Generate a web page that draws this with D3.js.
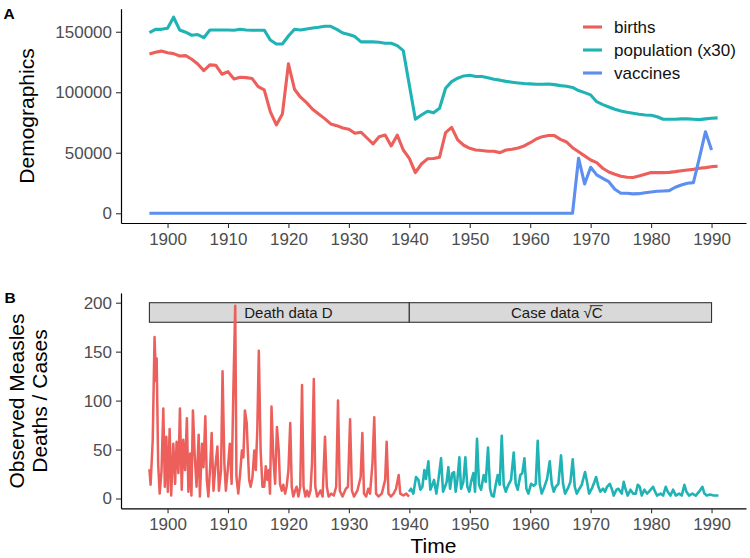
<!DOCTYPE html>
<html><head><meta charset="utf-8">
<script src="https://cdn.jsdelivr.net/npm/d3@7"></script>
<style>
body{margin:0;background:#fff}
text{font-family:"Liberation Sans",Arial,Helvetica,sans-serif}
</style>
</head><body>
<svg id="c" width="750" height="558"></svg>
<script>
// ---------- DATA ----------
const years = d3.range(1897, 1992); // 1897..1991
const births = [131600,133000,134000,132700,131900,130000,130300,127300,123400,117900,
122600,122300,114900,117000,111000,112400,112100,111300,104600,101900,
84000,73000,82000,123500,102500,95900,91400,85900,82000,78200,
73800,72400,70500,69500,66100,67000,62200,57300,63300,64700,
55600,64500,52300,45400,33600,40700,45000,45200,46300,66600,
71000,60600,56200,53700,52300,51800,51200,51200,50100,52300,
52900,54000,55600,58300,61400,63300,64200,64200,61100,58900,
54200,50800,47400,44000,41800,37200,34100,32200,30600,29700,
29500,30800,32200,33600,33600,33600,33800,34400,35200,35800,
36300,37200,37700,38500,38800];
const population30 = [149300,152000,152000,152900,162000,151500,149600,147100,147700,145100,
151500,151500,151500,151500,151200,152000,151500,151300,151300,151300,
143200,139900,139900,146500,152000,151500,152300,153100,153700,154500,
154500,152000,149000,147700,146000,141600,141600,141600,141300,140500,
140500,138500,134400,106000,77700,81200,84300,83000,86800,103300,
108800,111600,113500,114000,113000,113000,112000,110700,110000,109000,
108300,107700,107200,106900,106600,106600,106800,106300,105500,105000,
104000,101400,99700,97800,92200,89800,87800,85900,84500,83400,
82600,81800,81200,81000,79800,77700,77700,77700,78000,78000,
77700,77400,78000,78500,78800];
const vaccineYears = d3.range(1897, 1991); // 1897..1990
const vaccines = [0,0,0,0,0,0,0,0,0,0, 0,0,0,0,0,0,0,0,0,0,
0,0,0,0,0,0,0,0,0,0, 0,0,0,0,0,0,0,0,0,0,
0,0,0,0,0,0,0,0,0,0, 0,0,0,0,0,0,0,0,0,0,
0,0,0,0,0,0,0,0,0,0, 0,
45500,24200,38000,31700,28900,26100,19800,16500,16500,16000,
16200,17000,17600,18200,18400,18700,21500,23400,24800,25300,
46000,67400,52300];

const seriesNames = ["births","population (x30)","vaccines"];
const seriesColors = ["#EC5F5B","#20B3B5","#5C8FF0"];

// Panel B: deaths (1897-1940) and sqrt(cases) (1940-1991), read at turning points
const deathTime = [1897.0,1897.2,1897.55,1897.85,1898.1,1898.2,1898.45,1898.7,1899.0,1899.3,1899.55,1899.8,1900.05,1900.35,1900.6,1900.95,1901.25,1901.5,1901.8,1902.05,1902.35,1902.6,1902.9,1903.2,1903.45,1903.75,1903.95,1904.2,1904.5,1904.8,1905.15,1905.35,1905.7,1905.95,1906.25,1906.5,1906.75,1907.05,1907.3,1907.6,1907.9,1908.25,1908.5,1908.85,1909.1,1909.4,1909.65,1910.0,1910.3,1910.6,1910.9,1911.2,1911.4,1911.7,1912.0,1912.3,1912.55,1912.8,1913.1,1913.25,1913.5,1913.75,1914.05,1914.35,1914.6,1914.85,1915.1,1915.4,1915.7,1916.0,1916.25,1916.5,1916.75,1916.95,1917.2,1917.5,1917.8,1918.1,1918.4,1918.6,1918.9,1919.15,1919.45,1919.7,1920.0,1920.3,1920.55,1920.8,1921.1,1921.35,1921.65,1921.95,1922.25,1922.5,1922.8,1923.1,1923.35,1923.65,1923.9,1924.2,1924.45,1924.75,1925.3,1925.65,1926.05,1926.35,1926.65,1927.1,1927.5,1927.9,1928.2,1928.5,1928.95,1929.5,1929.85,1930.2,1930.5,1930.85,1931.4,1931.95,1932.23,1932.5,1932.85,1933.2,1933.5,1933.9,1934.2,1934.5,1934.9,1935.45,1936.0,1936.25,1936.55,1936.95,1937.4,1937.8,1938.24,1938.5,1939.0,1939.5,1939.95];
const deathValue = [30,14,60,165,120,143,35,5,28,92,12,63,7,71,3,56,15,58,26,92,9,60,29,82,7,46,3,90,43,12,65,2,56,32,84,19,2,32,67,8,32,53,8,29,130,36,8,32,56,15,114,197,22,5,25,49,42,90,77,53,19,12,22,49,29,70,151,49,12,12,33,19,29,5,94,42,15,73,49,15,8,14,5,12,29,77,12,2,8,12,2,12,116,12,2,8,2,8,36,122,12,2,8,2,63,12,2,5,3,12,100,8,2,10,12,81,8,2,8,22,67,5,2,10,5,36,83,5,2,5,19,58,5,2,5,10,24,5,3,5,2];
const caseTime = [1939.95,1940.28,1940.67,1941.11,1941.5,1941.83,1942.16,1942.49,1942.76,1943.15,1943.48,1943.81,1944.09,1944.47,1944.81,1945.25,1945.58,1945.91,1946.18,1946.46,1946.74,1947.12,1947.4,1947.67,1947.95,1948.28,1948.56,1948.94,1949.27,1949.6,1949.93,1950.21,1950.6,1950.87,1951.2,1951.53,1951.87,1952.31,1952.64,1953.02,1953.36,1953.63,1953.96,1954.29,1954.62,1954.95,1955.29,1955.62,1955.95,1956.39,1956.83,1957.27,1957.6,1957.93,1958.37,1958.7,1959.04,1959.37,1959.7,1960.14,1960.58,1960.91,1961.24,1961.57,1961.9,1962.35,1962.79,1963.23,1963.56,1963.89,1964.22,1964.66,1965.1,1965.43,1965.76,1966.21,1966.65,1967.03,1967.37,1967.7,1968.14,1968.52,1969.07,1969.4,1969.74,1970.18,1970.51,1970.9,1971.28,1971.61,1972.05,1972.38,1972.71,1973.16,1973.49,1973.82,1974.26,1974.59,1975.14,1975.47,1975.8,1976.13,1976.58,1977.02,1977.46,1977.79,1978.12,1978.45,1978.89,1979.33,1979.66,1980.33,1980.66,1980.99,1981.54,1981.98,1982.42,1982.75,1983.2,1983.64,1984.08,1984.63,1985.07,1985.51,1985.84,1986.28,1986.83,1987.39,1987.94,1988.49,1988.82,1989.21,1989.76,1990.31,1991.14];
const caseValue = [7,10,5,22,19,9,12,29,20,38,9,14,19,5,19,41,7,12,17,32,10,26,27,7,19,42,10,17,42,12,7,17,26,7,61,14,9,24,17,52,10,3,2,14,24,14,64,14,7,14,19,47,15,9,24,26,41,10,5,15,13,15,59,15,5,12,20,38,15,7,12,15,44,15,5,10,17,40,12,5,10,14,27,17,5,10,15,22,12,7,10,7,12,15,10,3,9,10,5,17,9,3,9,5,5,14,12,3,9,5,7,12,7,3,5,3,12,7,3,9,3,5,3,14,7,3,5,3,7,12,5,3,4,3,3];

const stripLabels = ["Death data D","Case data "];
const stripStart = [1897,1940];
const stripEnd = [1940,1990];
const stripLabelAt = [1920,1964.4];

const xTicks = [1900,1910,1920,1930,1940,1950,1960,1970,1980,1990];
const yTicksA = [0,50000,100000,150000];
const yTicksB = [0,50,100,150,200];

// ---------- DRAW ----------
const svg = d3.select("#c");
const left = 121, right = 746;
const x = d3.scaleLinear().domain([1892.3, 1995.7]).range([left, right]);
const yA = d3.scaleLinear().domain([-8050, 169050]).range([223, 8.7]);
const yB = d3.scaleLinear().domain([-10, 210]).range([508.3, 292.9]);

function styleAxis(g){
  g.select(".domain").attr("stroke","#000").attr("stroke-width",1.2);
  g.selectAll(".tick line").attr("stroke","#333").attr("stroke-width",1.1);
  g.selectAll(".tick text").attr("fill","#4D4D4D").style("font-size","17px")
    .style("font-family",'"Liberation Sans",Arial,Helvetica,sans-serif');
}

// Panel A
svg.append("g").attr("transform",`translate(0,${yA.range()[0]})`)
  .call(d3.axisBottom(x).tickValues(xTicks).tickFormat(d3.format("d")).tickSize(5).tickSizeOuter(0).tickPadding(5))
  .call(styleAxis);
svg.append("g").attr("transform",`translate(${left},0)`)
  .call(d3.axisLeft(yA).tickValues(yTicksA).tickFormat(d3.format("d")).tickSize(5).tickSizeOuter(0).tickPadding(4))
  .call(styleAxis);

const lineA = d3.line().x(d=>x(d[0])).y(d=>yA(d[1]));
const seriesA = [
  d3.zip(years, births),
  d3.zip(years, population30),
  d3.zip(vaccineYears, vaccines)
];
seriesA.forEach((s,i)=>{
  svg.append("path").attr("d", lineA(s)).attr("fill","none")
    .attr("stroke", seriesColors[i]).attr("stroke-width",3.1)
    .attr("stroke-linejoin","round").attr("stroke-linecap","butt");
});

// legend
const lg = svg.append("g");
seriesNames.forEach((n,i)=>{
  const yy = 27 + i*23;
  lg.append("line").attr("x1",583).attr("x2",602).attr("y1",yy).attr("y2",yy)
    .attr("stroke",seriesColors[i]).attr("stroke-width",3.1);
  lg.append("text").attr("x",614).attr("y",yy).attr("dy","0.35em")
    .style("font-size","17px").attr("fill","#111").text(n);
});

svg.append("text").attr("transform","translate(34,116) rotate(-90)")
  .attr("text-anchor","middle").style("font-size","21px").attr("fill","#000").text("Demographics");
svg.append("text").attr("x",3.5).attr("y",18.5).style("font-size","15.5px").style("font-weight","bold").text("A");

// Panel B
svg.append("g").attr("transform",`translate(0,${yB.range()[0]})`)
  .call(d3.axisBottom(x).tickValues(xTicks).tickFormat(d3.format("d")).tickSize(5).tickSizeOuter(0).tickPadding(5))
  .call(styleAxis);
svg.append("g").attr("transform",`translate(${left},0)`)
  .call(d3.axisLeft(yB).tickValues(yTicksB).tickFormat(d3.format("d")).tickSize(5).tickSizeOuter(0).tickPadding(4))
  .call(styleAxis);

// strips
stripStart.forEach((s,i)=>{
  svg.append("rect").attr("x",x(s)).attr("width",x(stripEnd[i])-x(s))
    .attr("y",yB(200)).attr("height",yB(180)-yB(200))
    .attr("fill","#D9D9D9").attr("stroke","#333").attr("stroke-width",1.1);
});

const lineB = d3.line().x(d=>x(d[0])).y(d=>yB(d[1]));
svg.append("path").attr("d", lineB(d3.zip(deathTime, deathValue))).attr("fill","none")
  .attr("stroke",seriesColors[0]).attr("stroke-width",2.5).attr("stroke-linejoin","round");
svg.append("path").attr("d", lineB(d3.zip(caseTime, caseValue))).attr("fill","none")
  .attr("stroke",seriesColors[1]).attr("stroke-width",2.6).attr("stroke-linejoin","round");

// strip labels
svg.append("text").attr("x",x(stripLabelAt[0])).attr("y",yB(190)).attr("dy","0.35em")
  .attr("text-anchor","middle").style("font-size","15px").attr("fill","#1a1a1a").text(stripLabels[0]);
const t2 = svg.append("text").attr("x",x(stripLabelAt[1])).attr("y",yB(190)).attr("dy","0.35em")
  .attr("text-anchor","middle").style("font-size","15px").attr("fill","#1a1a1a");
t2.append("tspan").text(stripLabels[1]);
t2.append("tspan").text("\u221A");
t2.append("tspan").text("C");
// overline over C for the square root
const tn = t2.node();
const n = tn.getNumberOfChars();
const startC = tn.getStartPositionOfChar(n-1);
const endC = tn.getEndPositionOfChar(n-1);
const startR = tn.getStartPositionOfChar(n-2);
svg.append("line").attr("x1",startR.x + (startC.x-startR.x)*0.75).attr("x2",endC.x)
  .attr("y1",yB(190)-6.8).attr("y2",yB(190)-6.8).attr("stroke","#1a1a1a").attr("stroke-width",0.9);

svg.append("text").attr("transform","translate(24,401) rotate(-90)")
  .attr("text-anchor","middle").style("font-size","21px").attr("fill","#000").text("Observed Measles");
svg.append("text").attr("transform","translate(47,401) rotate(-90)")
  .attr("text-anchor","middle").style("font-size","21px").attr("fill","#000").text("Deaths / Cases");
svg.append("text").attr("x",(left+right)/2).attr("y",553).attr("text-anchor","middle")
  .style("font-size","21px").attr("fill","#000").text("Time");
svg.append("text").attr("x",4.5).attr("y",302.7).style("font-size","15.5px").style("font-weight","bold").text("B");
</script>
</body></html>
